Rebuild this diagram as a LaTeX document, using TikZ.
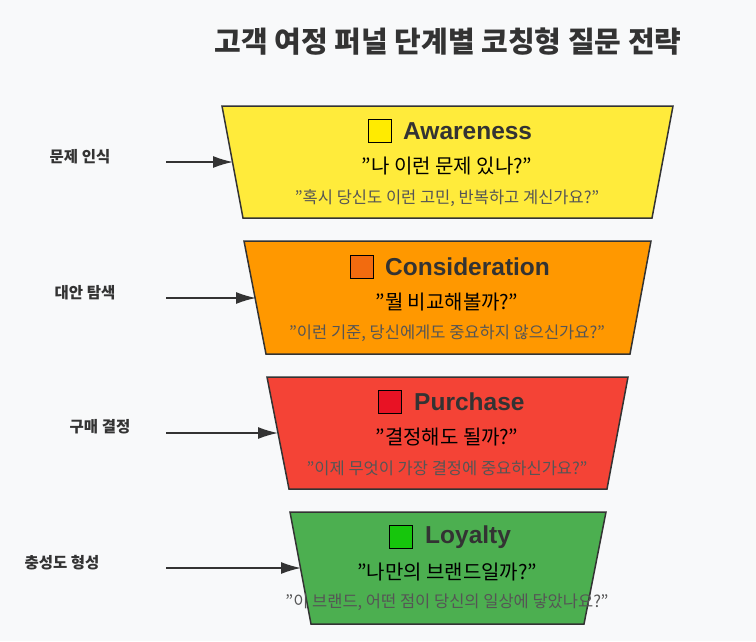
\documentclass[tikz,border=0pt]{standalone}
\usepackage{fontspec}
\setmainfont{Noto Sans CJK KR}
\newfontfamily\latinf{Liberation Sans}
\newcommand\dq{\symbol{34}}
\usetikzlibrary{arrows.meta}
\definecolor{bg}{HTML}{F8F9FA}
\definecolor{ink}{HTML}{333333}
\definecolor{sub}{HTML}{555555}
\tikzset{x=1pt,y=-1pt,
 stage/.style={draw=ink,line width=1.5pt},
 ttl/.style={font=\fontsize{24.5}{28}\selectfont\bfseries\latinf,text=ink,anchor=west,inner sep=0},
 ico/.style={draw=black,line width=1pt,minimum size=23pt,inner sep=0,anchor=east},
 quo/.style={font=\fontsize{20}{24}\selectfont,text=black},
 subt/.style={font=\fontsize{16.5}{20}\selectfont,text=sub},
 lbl/.style={font=\fontsize{15.5}{18}\selectfont\bfseries,text=ink},
 arr/.style={-{Latex[length=20pt,width=12pt]},line width=1.5pt,draw=ink}}
\begin{document}
\begin{tikzpicture}
\fill[bg] (0,0) rectangle (756,641);
\useasboundingbox (0,0) rectangle (756,641);
\node[font=\fontsize{29}{34}\selectfont\bfseries,text=ink] (title) at (448,42) {고객 여정 퍼널 단계별 코칭형 질문 전략};
% stage 1
\draw[stage,fill={rgb,255:red,255;green,235;blue,59}] (222,106)--(673,106)--(652,218)--(243,218)--cycle;
\coordinate (e1) at (233,162);
\node[ttl] (n1) at (403,131) {Awareness};
\node[ico,fill={rgb,255:red,255;green,235;blue,0}] (i1) at (392,131) {};
\node[quo] (q1) at (447,166) {\dq 나 이런 문제 있나?\dq};
\node[subt] (s1) at (447,198) {\dq 혹시 당신도 이런 고민, 반복하고 계신가요?\dq};
\node[lbl] (l1) at (80,157) {문제 인식};
\coordinate (a1) at (166,162);
\draw[arr] (a1)--(e1);
% stage 2
\draw[stage,fill={rgb,255:red,255;green,152;blue,0}] (244,241)--(651,241)--(630,354)--(266,354)--cycle;
\coordinate (e2) at (256,298);
\node[ttl] (n2) at (385,267) {Consideration};
\node[ico,fill={rgb,255:red,242;green,107;blue,15}] (i2) at (374,267) {};
\node[quo] (q2) at (447,302) {\dq 뭘 비교해볼까?\dq};
\node[subt] (s2) at (447,333) {\dq 이런 기준, 당신에게도 중요하지 않으신가요?\dq};
\node[lbl] (l2) at (85,293) {대안 탐색};
\coordinate (a2) at (166,298);
\draw[arr] (a2)--(e2);
% stage 3
\draw[stage,fill={rgb,255:red,244;green,67;blue,54}] (267,377)--(628,377)--(607,489)--(289,489)--cycle;
\coordinate (e3) at (278,433);
\node[ttl] (n3) at (414,402) {Purchase};
\node[ico,fill={rgb,255:red,232;green,18;blue,36}] (i3) at (402,402) {};
\node[quo] (q3) at (447,437) {\dq 결정해도 될까?\dq};
\node[subt] (s3) at (447,468) {\dq 이제 무엇이 가장 결정에 중요하신가요?\dq};
\node[lbl] (l3) at (100,427) {구매 결정};
\coordinate (a3) at (166,433);
\draw[arr] (a3)--(e3);
% stage 4
\draw[stage,fill={rgb,255:red,76;green,175;blue,80}] (290,512)--(606,512)--(584,624)--(311,624)--cycle;
\coordinate (e4) at (301,568);
\node[ttl] (n4) at (425,537) {Loyalty};
\node[ico,fill={rgb,255:red,22;green,198;blue,12}] (i4) at (413,537) {};
\node[quo] (q4) at (447,572) {\dq 나만의 브랜드일까?\dq};
\node[subt] (s4) at (447,602) {\dq 이 브랜드, 어떤 점이 당신의 일상에 닿았나요?\dq};
\node[lbl] (l4) at (62,563) {충성도 형성};
\coordinate (a4) at (166,568);
\draw[arr] (a4)--(e4);
\end{tikzpicture}
\end{document}
